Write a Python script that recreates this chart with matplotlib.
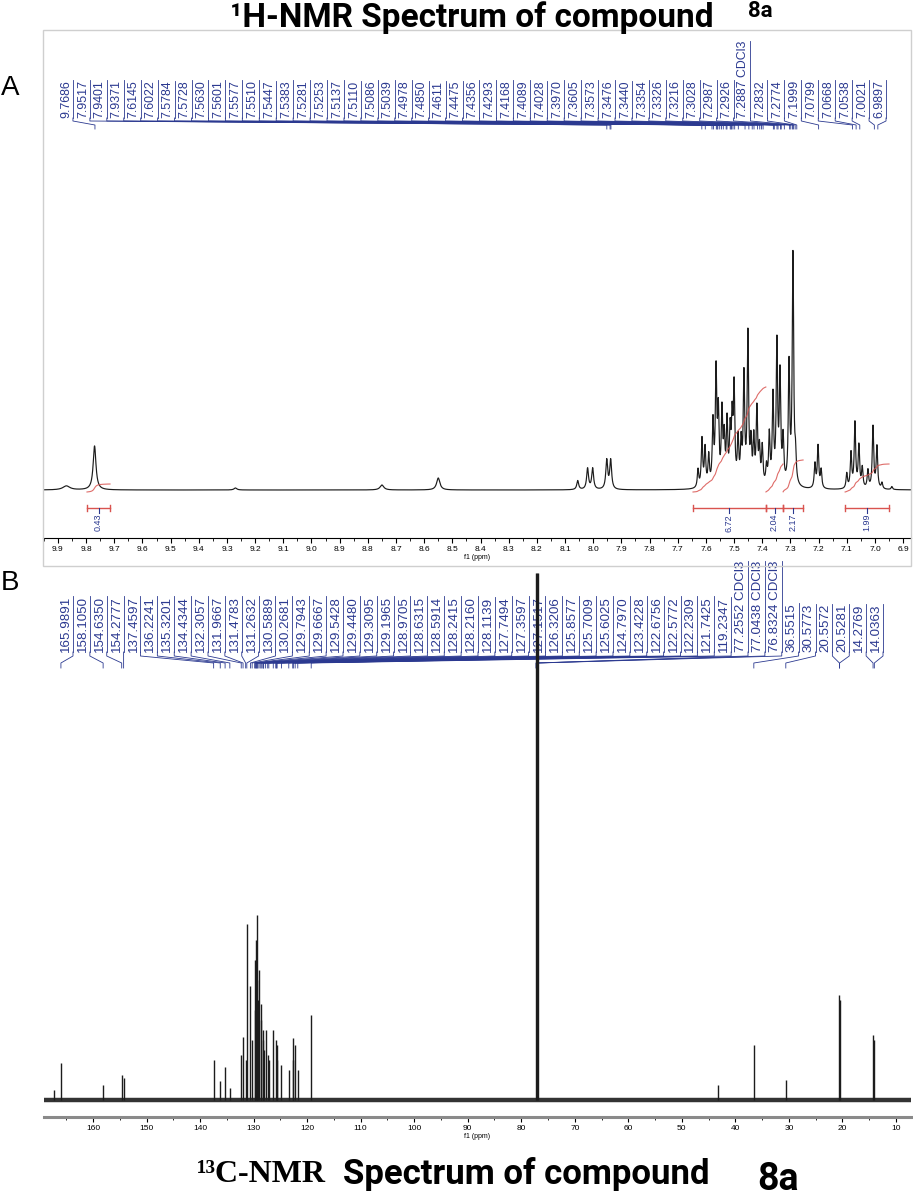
import numpy as np
import matplotlib
matplotlib.use("Agg")
import matplotlib.pyplot as plt
from matplotlib import font_manager
from matplotlib.patches import Rectangle
from matplotlib.ticker import MultipleLocator, FormatStrFormatter
from matplotlib.transforms import offset_copy

W, H = 913, 1200
NAVY = "#2b3990"
RED = "#d9534f"
INK = "#1c1c1c"

_names = {f.name for f in font_manager.fontManager.ttflist}
NARROW = "Liberation Sans Narrow" if "Liberation Sans Narrow" in _names else "Roboto"
SANS = "Liberation Sans"
SERIF = "Liberation Serif"

# ─── 1H data: peak positions (ppm), heights, half widths ─────────────────────────
h_ppm = [9.870, 9.770, 9.270, 8.750, 8.550, 8.055, 8.020, 8.002, 7.952, 7.938,
         7.628, 7.614, 7.603, 7.590, 7.575, 7.564, 7.556, 7.543, 7.535, 7.525,
         7.514, 7.507, 7.500, 7.486, 7.475, 7.465, 7.451, 7.440, 7.430, 7.419,
         7.410, 7.400, 7.385, 7.375, 7.362, 7.348, 7.337, 7.326, 7.305, 7.291,
         7.282, 7.213, 7.202, 7.191, 7.100, 7.085, 7.071, 7.057, 7.045, 7.025,
         7.007, 6.993, 6.975, 6.940]
h_height = [4, 44, 2, 5, 12, 9, 21, 21, 29, 29,
            18, 48, 38, 30, 62, 112, 70, 72, 45, 62,
            50, 60, 95, 45, 40, 108, 150, 40, 45, 75,
            35, 38, 18, 50, 88, 140, 108, 45, 120, 230,
            25, 24, 42, 18, 15, 35, 65, 42, 20, 18,
            62, 42, 6, 3]
h_hwhm = [0.015, 0.006, 0.006, 0.008, 0.007] + [0.004] * 5 + [0.003] * 44

h_labels = ["9.7686", "7.9517", "7.9401", "7.9371", "7.6145", "7.6022", "7.5784",
            "7.5728", "7.5630", "7.5601", "7.5577", "7.5510", "7.5447", "7.5383",
            "7.5281", "7.5253", "7.5137", "7.5110", "7.5086", "7.5039", "7.4978",
            "7.4850", "7.4611", "7.4475", "7.4356", "7.4293", "7.4168", "7.4089",
            "7.4028", "7.3970", "7.3605", "7.3573", "7.3476", "7.3440", "7.3354",
            "7.3326", "7.3216", "7.3028", "7.2987", "7.2926", "7.2887 CDCl3",
            "7.2832", "7.2774", "7.1999", "7.0799", "7.0668", "7.0538", "7.0021",
            "6.9897"]

h_int_start = [9.797, 7.646, 7.387, 7.326, 7.106]
h_int_end = [9.715, 7.387, 7.326, 7.255, 6.950]
h_int_value = ["0.43", "6.72", "2.04", "2.17", "1.99"]
h_int_rise = [8, 105, 28, 32, 28]

# ─── 13C data ────────────────────────────────────────────────────────────────────
c_ppm = [167.2, 165.9891, 158.1050, 154.6350, 154.2777, 137.4597, 136.2241,
         135.3201, 134.4344, 132.3057, 131.9667, 131.4783, 131.2632, 130.5889,
         130.2681, 129.7943, 129.6667, 129.5428, 129.4480, 129.3095, 129.1965,
         128.9705, 128.6315, 128.5914, 128.2415, 128.2160, 128.1139, 127.7494,
         127.3597, 127.1517, 126.3206, 125.8577, 125.7009, 125.6025, 124.7970,
         123.4228, 122.6756, 122.5772, 122.2309, 121.7425, 119.2347, 77.2552,
         77.0438, 76.8324, 43.2, 36.5515, 30.5773, 20.5572, 20.5281, 14.2769,
         14.0363]
c_height = [10, 37, 15, 25, 22, 40, 19, 33, 12, 45, 63, 40, 176, 114,
            60, 90, 140, 160, 185, 120, 100, 130, 80, 96, 70, 60, 50, 70,
            45, 40, 70, 60, 55, 40, 35, 30, 62, 40, 55, 30, 85, 527,
            527, 527, 15, 55, 20, 105, 100, 65, 60]

c_labels = ["165.9891", "158.1050", "154.6350", "154.2777", "137.4597", "136.2241",
            "135.3201", "134.4344", "132.3057", "131.9667", "131.4783", "131.2632",
            "130.5889", "130.2681", "129.7943", "129.6667", "129.5428", "129.4480",
            "129.3095", "129.1965", "128.9705", "128.6315", "128.5914", "128.2415",
            "128.2160", "128.1139", "127.7494", "127.3597", "127.1517", "126.3206",
            "125.8577", "125.7009", "125.6025", "124.7970", "123.4228", "122.6756",
            "122.5772", "122.2309", "121.7425", "119.2347", "77.2552 CDCl3",
            "77.0438 CDCl3", "76.8324 CDCl3", "36.5515", "30.5773", "20.5572",
            "20.5281", "14.2769", "14.0363"]


def px_box(x0, y0, x1, y1):
    """pixel box (top-left origin) -> figure fraction rect"""
    return [x0 / W, 1 - y1 / H, (x1 - x0) / W, (y1 - y0) / H]


def peak_labels(ax, labels, lx0, lx1, y_text, y_kink, y_end, y_tail, size):
    pos = np.linspace(lx0, lx1, len(labels))
    tr = offset_copy(ax.transData, fig=ax.figure, x=-1.0, y=0, units="dots")
    texts = []
    for lx, lab in zip(pos, labels):
        p = float(lab.split()[0])
        t = ax.text(lx, y_text, lab, rotation=90, ha="right", va="bottom",
                    fontsize=size, color=NAVY, family=SANS, transform=tr,
                    clip_on=False, zorder=2)
        texts.append((lx, t))
        ax.plot([lx, lx, p, p], [y_text, y_kink, y_end, y_tail], color=NAVY,
                lw=0.6, clip_on=False, zorder=2)
    return texts


def underline(ax, texts, y_text):
    fig = ax.figure
    fig.canvas.draw()
    inv = ax.transData.inverted()
    for lx, t in texts:
        bb = t.get_window_extent()
        top = inv.transform((bb.x0, bb.y1))[1]
        ax.plot([lx, lx], [y_text, top], color=NAVY, lw=0.6, clip_on=False, zorder=2)


def style_axis(ax, major, minor):
    for s in ("top", "left", "right"):
        ax.spines[s].set_visible(False)
    ax.set_yticks([])
    ax.xaxis.set_major_locator(MultipleLocator(major))
    ax.xaxis.set_minor_locator(MultipleLocator(minor))
    ax.tick_params(axis="x", which="major", length=3.5, width=0.8, pad=2,
                   labelsize=6, direction="out")
    ax.tick_params(axis="x", which="minor", length=2, width=0.6, direction="out")
    for lab in ax.get_xticklabels():
        lab.set_family(SANS)


fig = plt.figure(figsize=(W / 100, H / 100), dpi=100)

# ─── panel A: 1H ─────────────────────────────────────────────────────────────────
fig.add_artist(Rectangle((43 / W, 1 - 566 / H), 868 / W, 536 / H, transform=fig.transFigure,
                         fill=False, edgecolor="#cfcfcf", lw=1))
ax1 = fig.add_axes(px_box(43, 30, 911, 538))
ax1.set_xlim(9.953, 6.872)
ax1.set_ylim(-48, 460)
style_axis(ax1, 0.1, 0.05)
ax1.xaxis.set_major_formatter(FormatStrFormatter("%.1f"))
ax1.set_xlabel("f1 (ppm)", fontsize=5, labelpad=1, family=SANS)

x1 = np.linspace(9.953, 6.872, 9000)
spec1 = np.zeros_like(x1)
for p, h, w in zip(h_ppm, h_height, h_hwhm):
    spec1 += h / (1 + ((x1 - p) / w) ** 2)
ax1.plot(x1, spec1, color=INK, lw=0.85, zorder=3)

for s, e, val, rise in zip(h_int_start, h_int_end, h_int_value, h_int_rise):
    m = (x1 <= s) & (x1 >= e)
    cum = np.cumsum(spec1[m])
    ax1.plot(x1[m], cum / cum[-1] * rise - 2, color=RED, lw=0.8, alpha=0.85, zorder=4)
    ax1.plot([s, e], [-18, -18], color=RED, lw=1)
    ax1.plot([s, s], [-21, -15], color=RED, lw=1)
    ax1.plot([e, e], [-21, -15], color=RED, lw=1)
    mid = (s + e) / 2
    ax1.plot([mid, mid], [-18, -23], color=NAVY, lw=0.8)
    ax1.text(mid, -24, val, rotation=90, ha="center", va="top", fontsize=6.5,
             color=NAVY, family=SANS)

h_texts = peak_labels(ax1, h_labels, 9.9 - (73 - 58) / 281.7, 9.9 - (886 - 58) / 281.7,
                      372, 369, 365, 361, 8.9)

# ─── panel B: 13C ────────────────────────────────────────────────────────────────
ax2 = fig.add_axes(px_box(44, 570, 911, 1117))
ax2.set_xlim(169.15, 7.19)
ax2.set_ylim(-17, 530)
style_axis(ax2, 10, 5)
ax2.spines["bottom"].set_color("#8a8a8a")
ax2.spines["bottom"].set_linewidth(2.2)
ax2.set_xlabel("f1 (ppm)", fontsize=5, labelpad=1, family=SANS)

ax2.plot([169.15, 7.19], [0, 0], color="#333333", lw=3.2, solid_capstyle="butt", zorder=3)
ax2.vlines(c_ppm, 0, c_height, color=INK, lw=1.0, zorder=3)

c_texts = peak_labels(ax2, c_labels, 160 - (73 - 93) / 5.353, 160 - (883 - 93) / 5.353,
                      448, 444, 437, 432, 9.6)

underline(ax1, h_texts, 372)
underline(ax2, c_texts, 448)

# ─── titles and panel letters ───────────────────────────────────────────────────
fig.text(230 / W, 1 - 18 / H, "\u00b9H-NMR Spectrum of compound", fontsize=24,
         fontweight="bold", family=NARROW, ha="left", va="center")
fig.text(748 / W, 1 - 11 / H, "8a", fontsize=16, fontweight="bold", family=NARROW,
         ha="left", va="center")
fig.text(10 / W, 1 - 88 / H, "A", fontsize=20, family=SANS, ha="center", va="center")
fig.text(10 / W, 1 - 583 / H, "B", fontsize=20, family=SANS, ha="center", va="center")

fig.text(197 / W, 1 - 1174 / H, "\u00b9\u00b3C-NMR", fontsize=23, fontweight="bold",
         family=SERIF, ha="left", va="center")
fig.text(343 / W, 1 - 1174 / H, "Spectrum of compound", fontsize=25, fontweight="bold",
         family=NARROW, ha="left", va="center")
fig.text(757 / W, 1 - 1179 / H, "8a", fontsize=27, fontweight="bold", family=NARROW,
         ha="left", va="center")

fig.savefig("out.png", dpi=100)
